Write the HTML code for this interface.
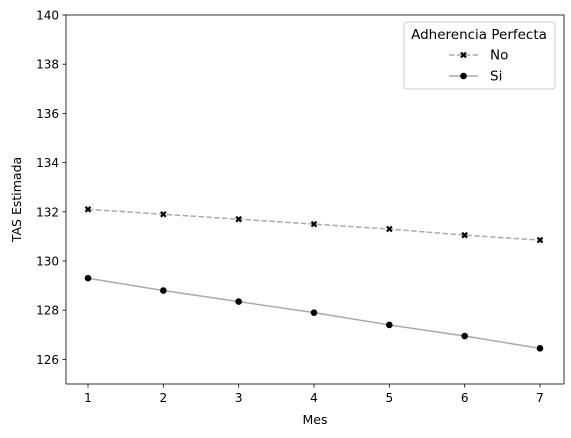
<!DOCTYPE html>
<html><head><meta charset="utf-8"><style>
html,body{margin:0;padding:0;background:#fff;}
svg{display:block;font-family:"DejaVu Sans","Liberation Sans",sans-serif;}
</style></head><body>
<svg id="chart" width="571" height="438" xmlns="http://www.w3.org/2000/svg"></svg>
<script>
const months = [1,2,3,4,5,6,7];
const seriesNo = [132.1,131.9,131.7,131.5,131.3,131.05,130.85];
const seriesSi = [129.3,128.8,128.35,127.9,127.4,126.95,126.45];
const yTicks = [126,128,130,132,134,136,138,140];
const xTicks = [1,2,3,4,5,6,7];

const svg = document.getElementById('chart');
const NS = 'http://www.w3.org/2000/svg';
const L=66,R=564,T=15,B=384;
const xS = v => 88 + (v-1)*(540-88)/6;
const yS = v => T + (140-v)*(B-T)/15;
function mk(tag, attrs, parent){const e=document.createElementNS(NS,tag);for(const k in attrs)e.setAttribute(k,attrs[k]);(parent||svg).appendChild(e);return e;}

const frame = mk('rect',{x:L,y:T,width:R-L,height:B-T,fill:'none',stroke:'#000','stroke-width':0.8});



yTicks.forEach(t=>{
  const y=yS(t);
  const tk=mk('line',{x1:L-3.5,x2:L,y1:y,y2:y,stroke:'#000','stroke-width':0.8});
  
  
  const tx=mk('text',{x:L-7,y:y+4.5,'text-anchor':'end','font-size':'12px',fill:'#000'});
  tx.textContent=t;
  
  
});
xTicks.forEach(t=>{
  const x=xS(t);
  const tk=mk('line',{x1:x,x2:x,y1:B,y2:B+3.5,stroke:'#000','stroke-width':0.8});
  
  
  const tx=mk('text',{x:x,y:B+18,'text-anchor':'middle','font-size':'12px',fill:'#000'});
  tx.textContent=t;
  
  
});
const xt=mk('text',{x:(L+R)/2,y:424,'text-anchor':'middle','font-size':'12.5px'});
xt.textContent='Mes';


const yt=mk('text',{x:0,y:0,'text-anchor':'middle','font-size':'12.5px',transform:`translate(21,${(T+B)/2}) rotate(-90)`});
yt.textContent='TAS Estimada';



function cross(g,x,y){
  const d=2.5;
  mk('path',{d:`M${x-d},${y-d}L${x+d},${y+d}M${x-d},${y+d}L${x+d},${y-d}`,stroke:'#000','stroke-width':2.2,fill:'none'},g);
}
function dot(g,x,y){mk('circle',{cx:x,cy:y,r:3.3,fill:'#000'},g);}

const gNo=mk('g',{});


mk('polyline',{points:months.map((m,i)=>xS(m)+','+yS(seriesNo[i])).join(' '),fill:'none',stroke:'#aaaaaa','stroke-width':1.5,'stroke-dasharray':'5.5,2.4'},gNo);
months.forEach((m,i)=>cross(gNo,xS(m),yS(seriesNo[i])));

const gSi=mk('g',{});


mk('polyline',{points:months.map((m,i)=>xS(m)+','+yS(seriesSi[i])).join(' '),fill:'none',stroke:'#aaaaaa','stroke-width':1.5},gSi);
months.forEach((m,i)=>dot(gSi,xS(m),yS(seriesSi[i])));

const lg=mk('g',{});


mk('rect',{x:404,y:22,width:151,height:67,rx:3,fill:'#fff',stroke:'#cccccc','stroke-width':1},lg);
const lt=mk('text',{x:479,y:39,'text-anchor':'middle','font-size':'13.5px'},lg);
lt.textContent='Adherencia Perfecta';
const e1=mk('g',{},lg);


mk('line',{x1:449,x2:478,y1:55,y2:55,stroke:'#aaaaaa','stroke-width':1.5,'stroke-dasharray':'5.5,2.4'},e1);
cross(e1,463.5,55);
const t1=mk('text',{x:490,y:59.5,'font-size':'13.5px'},e1);t1.textContent='No';
const e2=mk('g',{},lg);


mk('line',{x1:449,x2:478,y1:76,y2:76,stroke:'#aaaaaa','stroke-width':1.5},e2);
dot(e2,463.5,76);
const t2=mk('text',{x:490,y:80.5,'font-size':'13.5px'},e2);t2.textContent='Si';
</script>
</body></html>
